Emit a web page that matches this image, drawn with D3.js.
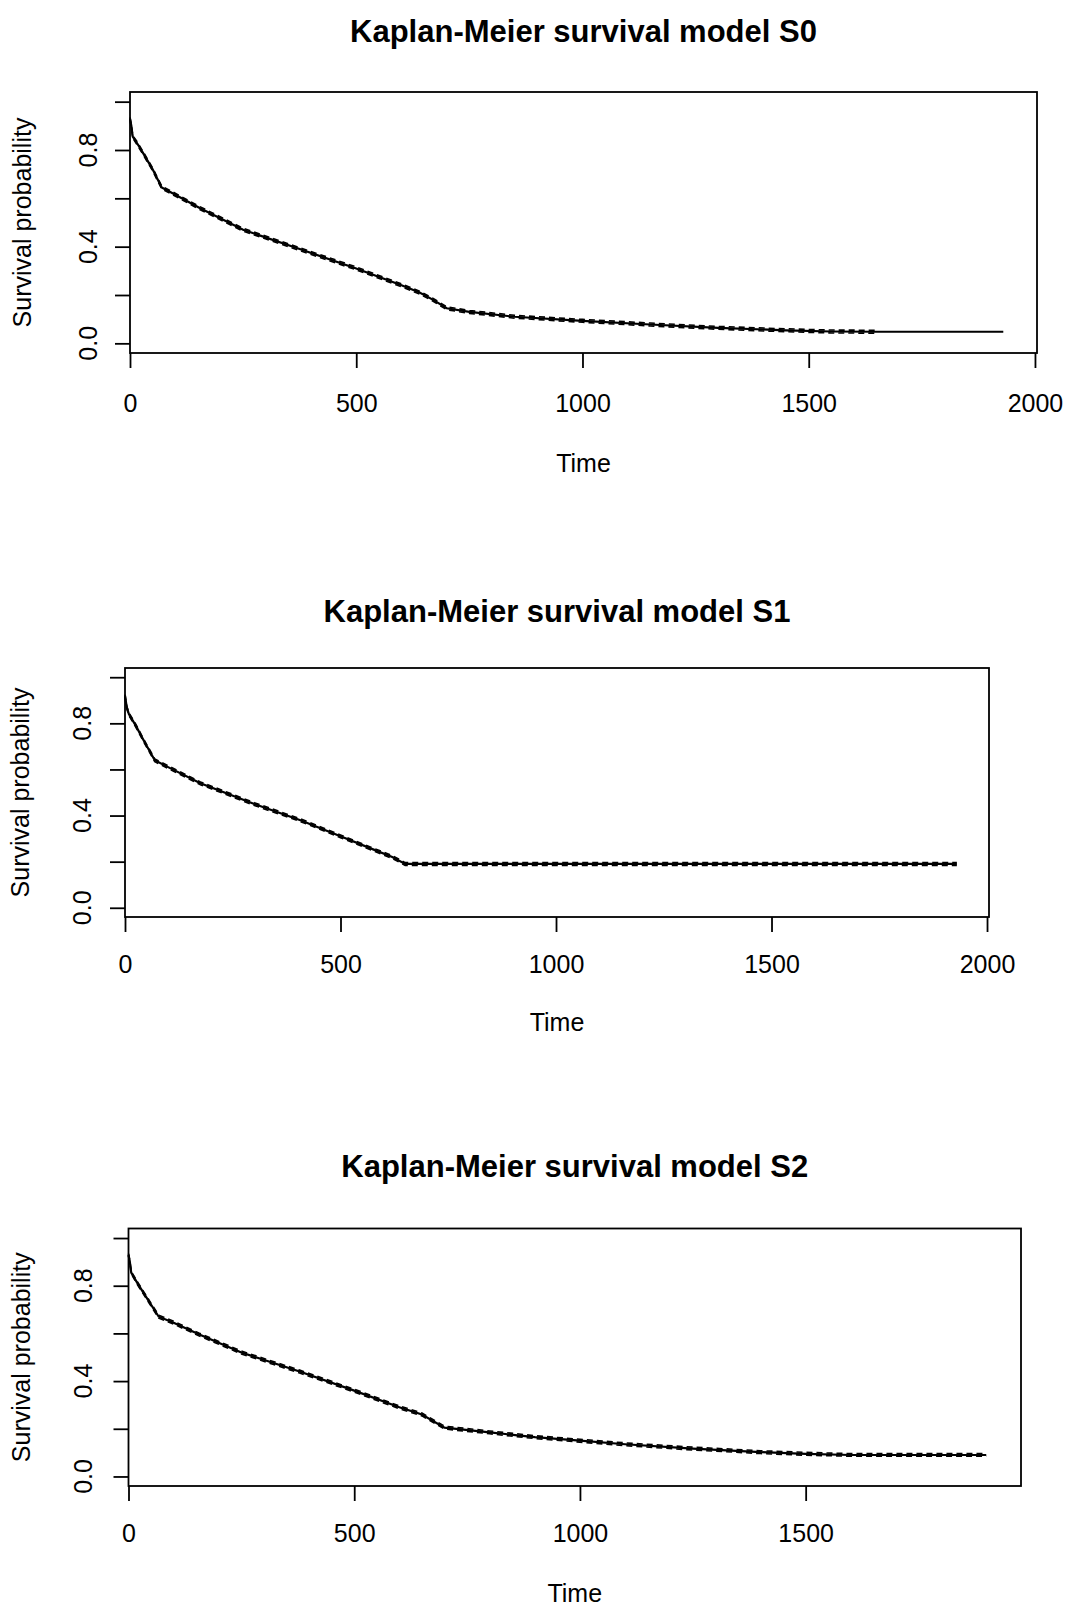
<!DOCTYPE html>
<html>
<head>
<meta charset="utf-8">
<script src="https://cdn.jsdelivr.net/npm/d3@7"></script>
<style>
  body { margin: 0; background: #fff; }
  svg { display: block; font-family: "Liberation Sans", Arial, sans-serif; }
</style>
</head>
<body>
<svg id="chart" width="1066" height="1608"></svg>
<script>
// ---- values ----
const yTicks = [0, 0.2, 0.4, 0.6, 0.8, 1.0];
const yTickLabels = ["0.0", "", "0.4", "", "0.8", ""];
const xTicksLong = [0, 500, 1000, 1500, 2000];
const xTicksShort = [0, 500, 1000, 1500];

// S0
const s0Time  = [0, 3, 6, 15, 28, 50, 70, 90, 154, 250, 375, 500, 600, 640, 670, 700, 750, 850, 1000, 1150, 1300, 1450, 1550, 1650, 1930];
const s0Surv  = [0.93, 0.90, 0.855, 0.83, 0.79, 0.72, 0.645, 0.625, 0.56, 0.47, 0.39, 0.31, 0.24, 0.21, 0.18, 0.145, 0.13, 0.11, 0.093, 0.078, 0.064, 0.054, 0.049, 0.048, 0.048];
const s0Lower = [0.925, 0.895, 0.85, 0.824, 0.784, 0.714, 0.639, 0.619, 0.554, 0.464, 0.384, 0.304, 0.234, 0.204, 0.174, 0.139, 0.124, 0.104, 0.087, 0.072, 0.058, 0.048, 0.043, 0.042];
const s0Upper = [0.935, 0.905, 0.86, 0.836, 0.796, 0.726, 0.651, 0.631, 0.566, 0.476, 0.396, 0.316, 0.246, 0.216, 0.186, 0.151, 0.136, 0.116, 0.099, 0.084, 0.07, 0.06, 0.055, 0.054];

// S1
const s1Time  = [0, 4, 9, 25, 45, 69, 100, 175, 300, 407, 500, 580, 620, 650, 1930];
const s1Surv  = [0.92, 0.87, 0.84, 0.79, 0.72, 0.64, 0.61, 0.54, 0.45, 0.38, 0.31, 0.25, 0.22, 0.19, 0.19];
const s1Lower = [0.915, 0.865, 0.834, 0.784, 0.714, 0.634, 0.604, 0.534, 0.444, 0.374, 0.304, 0.244, 0.214, 0.184, 0.184];
const s1Upper = [0.925, 0.875, 0.846, 0.796, 0.726, 0.646, 0.616, 0.546, 0.456, 0.386, 0.316, 0.256, 0.226, 0.196, 0.196];

// S2
const s2Time  = [0, 3, 6, 20, 40, 67, 100, 157, 250, 379, 500, 600, 650, 700, 800, 900, 1000, 1100, 1250, 1400, 1500, 1600, 1900];
const s2Surv  = [0.93, 0.90, 0.855, 0.81, 0.75, 0.67, 0.645, 0.595, 0.52, 0.44, 0.36, 0.29, 0.26, 0.205, 0.185, 0.165, 0.15, 0.135, 0.117, 0.102, 0.095, 0.09, 0.09];
const s2Lower = [0.925, 0.895, 0.85, 0.804, 0.744, 0.664, 0.639, 0.589, 0.514, 0.434, 0.354, 0.284, 0.254, 0.199, 0.179, 0.159, 0.144, 0.129, 0.111, 0.096, 0.089, 0.085, 0.085];
const s2Upper = [0.935, 0.905, 0.86, 0.816, 0.756, 0.676, 0.651, 0.601, 0.526, 0.446, 0.366, 0.296, 0.266, 0.211, 0.191, 0.171, 0.156, 0.141, 0.123, 0.108, 0.101, 0.096, 0.096];

// ---- panel layout ----
const panels = [
  { title: "Kaplan-Meier survival model S0", time: s0Time, surv: s0Surv, lower: s0Lower, upper: s0Upper,
    xTicks: xTicksLong, xMax: 2004.5,
    left: 130, right: 1037, top: 92, bottom: 353,
    titleY: 42, labelGap: 26, timeY: 472, yLabelX: 97, yTitleX: 31 },
  { title: "Kaplan-Meier survival model S1", time: s1Time, surv: s1Surv, lower: s1Lower, upper: s1Upper,
    xTicks: xTicksLong, xMax: 2004.6,
    left: 125, right: 989, top: 668, bottom: 917,
    titleY: 622, labelGap: 23, timeY: 1031, yLabelX: 91, yTitleX: 29 },
  { title: "Kaplan-Meier survival model S2", time: s2Time, surv: s2Surv, lower: s2Lower, upper: s2Upper,
    xTicks: xTicksShort, xMax: 1977,
    left: 128.5, right: 1021, top: 1228.5, bottom: 1486,
    titleY: 1177, labelGap: 23, timeY: 1602, yLabelX: 92, yTitleX: 30 }
];

const svg = d3.select("#chart");

function drawPanel(p) {
  const g = svg.append("g");

  const x = d3.scaleLinear().domain([0, p.xMax]).range([p.left, p.right]);
  const y = d3.scaleLinear().domain([-0.04, 1.04]).range([p.bottom, p.top]);

  // title
  g.append("text")
    .attr("x", (p.left + p.right) / 2)
    .attr("y", p.titleY)
    .attr("text-anchor", "middle")
    .attr("font-size", 31)
    .attr("font-weight", "bold")
    .text(p.title);

  // x axis
  const xAxisG = g.append("g")
    .attr("transform", `translate(0,${p.bottom})`)
    .call(d3.axisBottom(x).tickValues(p.xTicks).tickSize(15).tickPadding(p.labelGap).tickFormat(d3.format("d")))
    .attr("font-size", 25)
    .attr("font-family", null);
  xAxisG.select(".domain").remove();
  xAxisG.selectAll(".tick line").attr("stroke", "#000").attr("stroke-width", 1.8);
  xAxisG.selectAll(".tick text").attr("fill", "#000");

  // y axis (labels drawn separately, rotated like R's las=0)
  const yAxisG = g.append("g")
    .attr("transform", `translate(${p.left},0)`)
    .call(d3.axisLeft(y).tickValues(yTicks).tickSize(15).tickFormat(""));
  yAxisG.select(".domain").remove();
  yAxisG.selectAll(".tick line").attr("stroke", "#000").attr("stroke-width", 1.8);

  g.selectAll(".ylab")
    .data(yTicks.map((v, i) => ({ v, label: yTickLabels[i] })).filter(d => d.label !== ""))
    .join("text")
    .attr("class", "ylab")
    .attr("transform", d => `translate(${p.yLabelX},${y(d.v)}) rotate(-90)`)
    .attr("text-anchor", "middle")
    .attr("font-size", 25)
    .text(d => d.label);

  // axis titles
  g.append("text")
    .attr("x", (p.left + p.right) / 2)
    .attr("y", p.timeY)
    .attr("text-anchor", "middle")
    .attr("font-size", 25)
    .text("Time");

  g.append("text")
    .attr("transform", `translate(${p.yTitleX},${(p.top + p.bottom) / 2}) rotate(-90)`)
    .attr("text-anchor", "middle")
    .attr("font-size", 25)
    .text("Survival probability");

  // box
  g.append("rect")
    .attr("x", p.left).attr("y", p.top)
    .attr("width", p.right - p.left).attr("height", p.bottom - p.top)
    .attr("fill", "none").attr("stroke", "#000").attr("stroke-width", 1.8);

  // curves
  const line = d3.line().x(d => x(d[0])).y(d => y(d[1]));

  const ci = [p.lower, p.upper].map(arr => arr.map((v, i) => [p.time[i], v]));
  g.selectAll(".ci")
    .data(ci)
    .join("path")
    .attr("class", "ci")
    .attr("d", line)
    .attr("fill", "none")
    .attr("stroke", "#000")
    .attr("stroke-width", 1.6)
    .attr("stroke-dasharray", "6,4");

  g.append("path")
    .datum(p.time.map((t, i) => [t, p.surv[i]]))
    .attr("d", line)
    .attr("fill", "none")
    .attr("stroke", "#000")
    .attr("stroke-width", 2.2);
}

panels.forEach(drawPanel);
</script>
</body>
</html>
